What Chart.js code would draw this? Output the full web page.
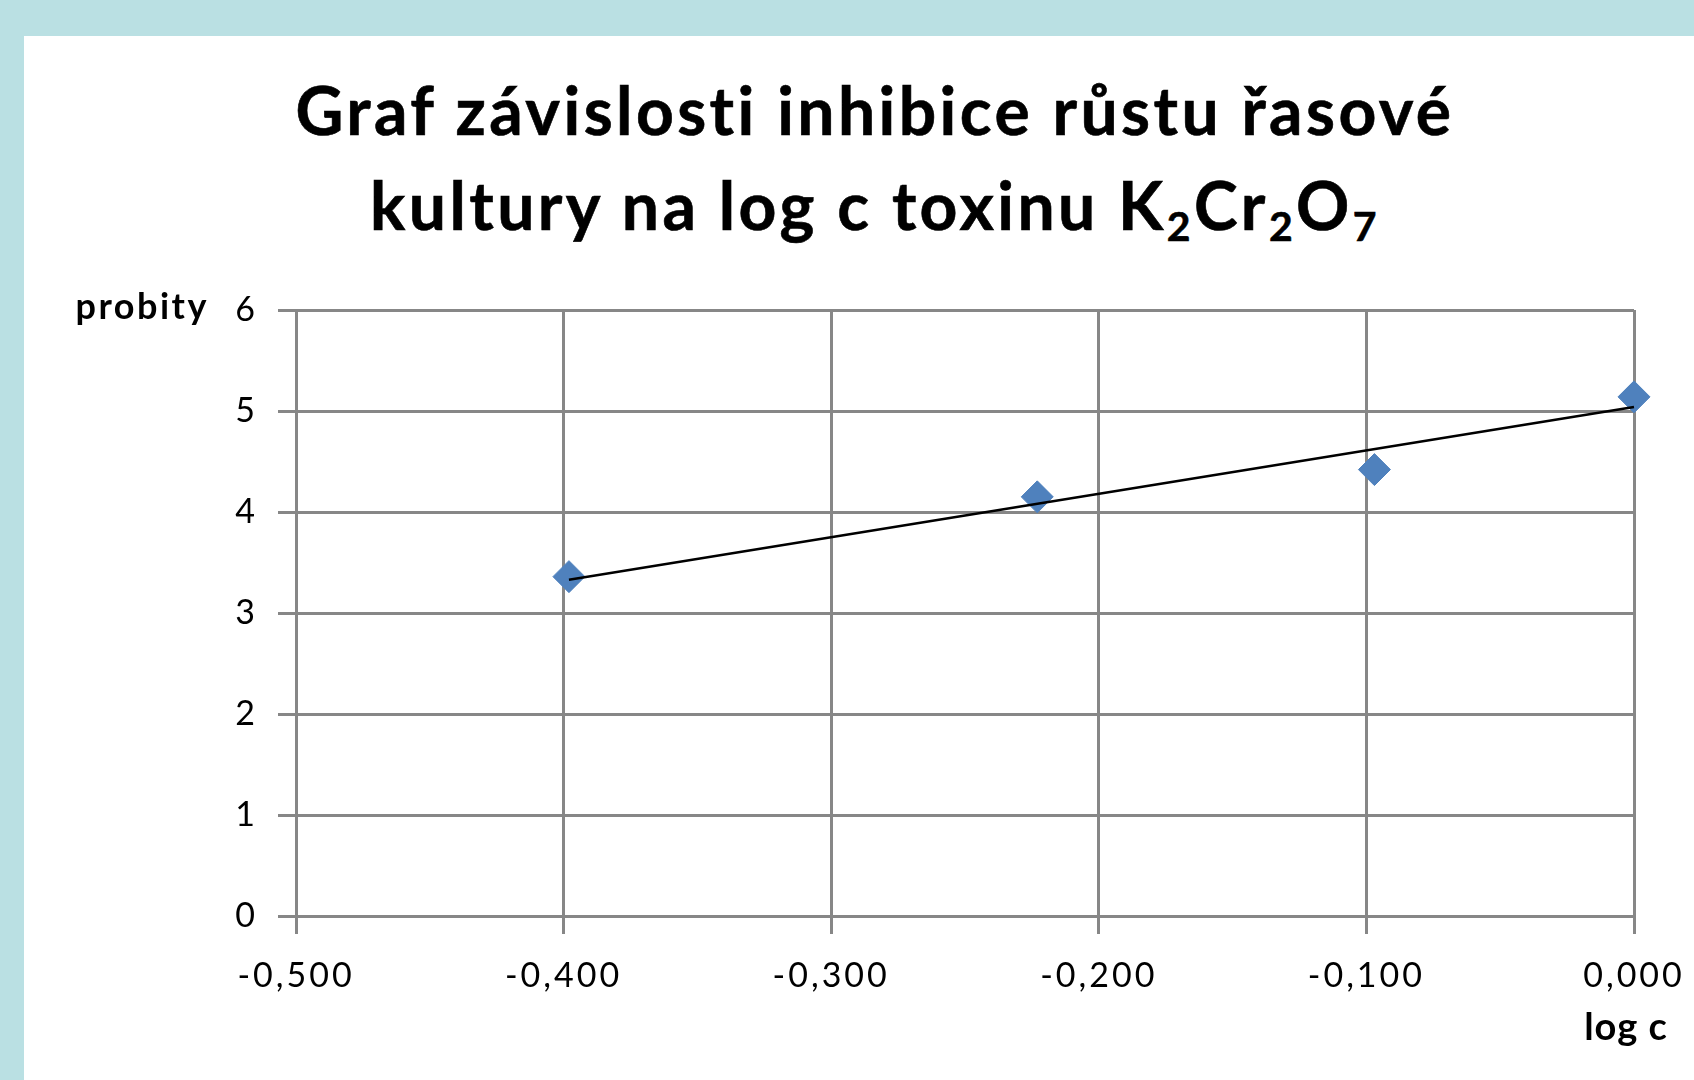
<!DOCTYPE html>
<html lang="cs">
<head>
    <meta charset="UTF-8">
    <title>Graf závislosti inhibice růstu řasové kultury</title>
    <script src="https://cdn.jsdelivr.net/npm/chart.js"></script>
    <style>
        body {
            margin: 0;
            background: #bae0e3;
            width: 1694px;
            height: 1080px;
            overflow: hidden;
            position: relative;
        }
        .panel {
            position: absolute;
            left: 24px;
            top: 36px;
            right: 0;
            bottom: 0;
            background: #ffffff;
        }
        .title {
            position: absolute;
            left: 0;
            top: 62px;
            width: 1750px;
            text-align: center;
            font-family: Lato, sans-serif;
            font-weight: bold;
            font-size: 66px;
            line-height: 95px;
            letter-spacing: 3.4px;
            -webkit-text-stroke: 0.6px #000;
            color: #000;
        }
        .title sub {
            font-size: 0.62em;
            line-height: 0;
            vertical-align: -0.28em;
        }
        canvas {
            position: absolute;
            left: 0;
            top: 0;
        }
    </style>
</head>
<body>
    <div class="panel"></div>
    <div class="title">Graf závislosti inhibice růstu řasové<br>kultury na log c toxinu K<sub>2</sub>Cr<sub>2</sub>O<sub>7</sub></div>
    <canvas id="graf" width="1694" height="1080"></canvas>

    <script>
        // naměřené body (log c, probity)
        const logC = [-0.398, -0.223, -0.097, 0.000];
        const probity = [3.36, 4.15, 4.42, 5.14];

        // lineární spojnice trendu - koncové body
        const trendX = [-0.398, 0.000];
        const trendY = [3.33, 5.04];

        const xTicks = [-0.5, -0.4, -0.3, -0.2, -0.1, 0];
        const yTicks = [0, 1, 2, 3, 4, 5, 6];

        const yLabel = 'probity';
        const xLabel = 'log c';

        const gridColor = '#878787';

        // trochu širší písmo jako v původním (zvětšeném) obrázku
        const spacing = {
            id: 'spacing',
            beforeLayout(chart) { chart.ctx.letterSpacing = '3px'; },
            beforeDraw(chart) { chart.ctx.letterSpacing = '3px'; }
        };

        // popisky os jako v Excelu (probity vlevo nahoře, log c vpravo dole)
        const axisLabels = {
            id: 'axisLabels',
            afterDraw(chart) {
                const ctx = chart.ctx;
                const x = chart.scales.x, y = chart.scales.y;
                ctx.save();
                ctx.fillStyle = '#000';
                ctx.font = 'bold 36px Lato';
                ctx.letterSpacing = '2.5px';
                ctx.textAlign = 'right';
                ctx.textBaseline = 'alphabetic';
                ctx.fillText(yLabel, 209, y.getPixelForValue(yTicks[yTicks.length - 1]) + 9);
                ctx.font = 'bold 38px Lato';
                ctx.letterSpacing = '1px';
                ctx.textAlign = 'center';
                ctx.fillText(xLabel, x.getPixelForValue(xTicks[xTicks.length - 1]) - 8, 1040);
                ctx.restore();
            }
        };

        const ctx = document.getElementById('graf').getContext('2d');
        new Chart(ctx, {
            type: 'scatter',
            data: {
                datasets: [
                    {
                        label: 'trend',
                        data: trendX.map((v, i) => ({ x: v, y: trendY[i] })),
                        showLine: true,
                        borderColor: '#000000',
                        borderWidth: 2.5,
                        pointRadius: 0,
                        fill: false,
                        clip: false
                    },
                    {
                        label: 'probity',
                        data: logC.map((v, i) => ({ x: v, y: probity[i] })),
                        showLine: false,
                        pointStyle: 'rectRot',
                        pointRadius: 16,
                        pointHoverRadius: 16,
                        backgroundColor: '#4f81bd',
                        borderColor: '#4f81bd',
                        borderWidth: 1,
                        clip: false
                    }
                ]
            },
            plugins: [spacing, axisLabels],
            options: {
                responsive: false,
                animation: false,
                layout: {
                    padding: { left: 0, top: 310, right: 60, bottom: 0 }
                },
                plugins: {
                    legend: { display: false },
                    tooltip: { enabled: false }
                },
                scales: {
                    x: {
                        type: 'linear',
                        min: xTicks[0],
                        max: xTicks[xTicks.length - 1],
                        afterBuildTicks: s => { s.ticks = xTicks.map(v => ({ value: v })); },
                        afterFit: s => {
                            s.height = 164;
                            s.paddingLeft = 0;
                            s.paddingRight = 0;
                        },
                        border: { color: gridColor, width: 3 },
                        grid: { color: gridColor, lineWidth: 3, tickLength: 18 },
                        ticks: {
                            color: '#000',
                            font: { family: 'Lato', size: 34 },
                            padding: 22,
                            maxRotation: 0,
                            callback: v => Number(v).toFixed(3).replace('.', ',')
                        }
                    },
                    y: {
                        type: 'linear',
                        min: yTicks[0],
                        max: yTicks[yTicks.length - 1],
                        afterBuildTicks: s => { s.ticks = yTicks.map(v => ({ value: v })); },
                        afterFit: s => {
                            s.width = 296;
                            s.paddingTop = 0;
                            s.paddingBottom = 0;
                        },
                        border: { color: gridColor, width: 3 },
                        grid: { color: gridColor, lineWidth: 3, tickLength: 18 },
                        ticks: {
                            color: '#000',
                            font: { family: 'Lato', size: 34 },
                            padding: 20,
                            callback: v => String(v)
                        }
                    }
                }
            }
        });
    </script>
</body>
</html>
